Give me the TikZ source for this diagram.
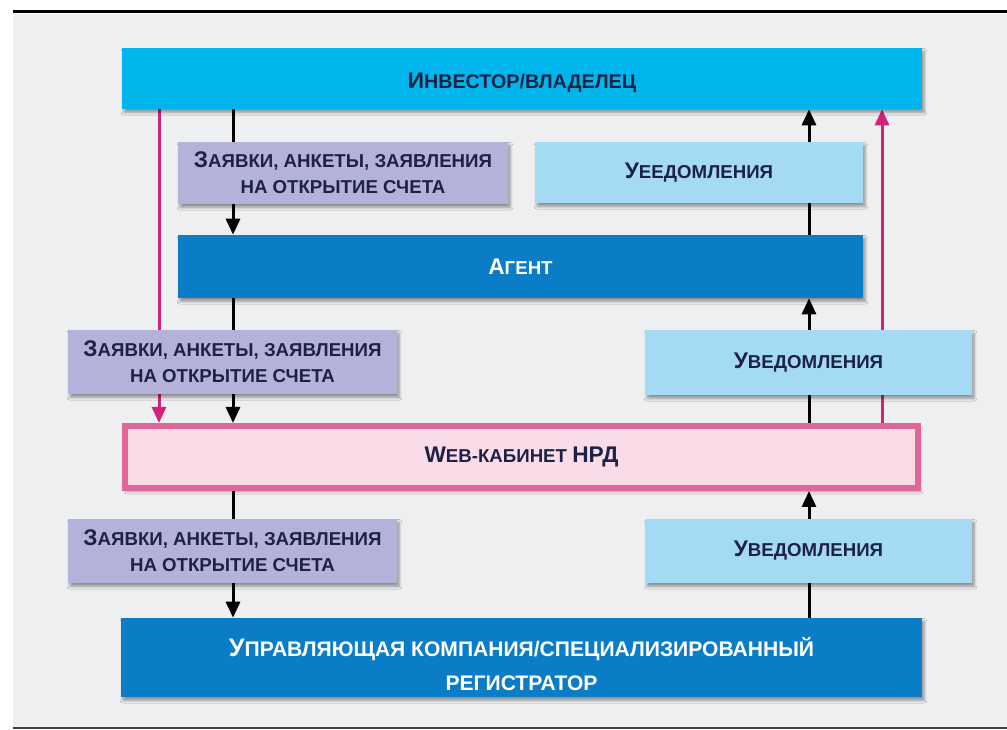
\documentclass[tikz,border=0pt]{standalone}
\usepackage{fontspec}
\setmainfont{Liberation Sans}
\usetikzlibrary{arrows.meta,shadows.blur,backgrounds}
\definecolor{bgc}{HTML}{EEEFF0}
\definecolor{invc}{HTML}{00B5EC}
\definecolor{dkb}{HTML}{0B7CC6}
\definecolor{lav}{HTML}{B4B1DA}
\definecolor{ltb}{HTML}{A5DAF4}
\definecolor{pinkf}{HTML}{FADCE9}
\definecolor{pinkb}{HTML}{DF6799}
\definecolor{mag}{HTML}{D4217E}
\definecolor{txt}{HTML}{1C2244}
\newcommand\Bg[1]{{\fontsize{17}{19.5}\selectfont #1}}
\newcommand\Bgg[1]{{\fontsize{19}{25.5}\selectfont #1}}
\begin{document}
\begin{tikzpicture}[x=0.75pt,y=-0.75pt,
  box/.style={rectangle, inner sep=0pt, align=center,
    font=\fontsize{14}{19.5}\selectfont\bfseries, text=txt,
    blur shadow={shadow xshift=1.5pt, shadow yshift=-2.5pt, shadow blur steps=6, shadow opacity=40}},
  reqbox/.style={box, fill=lav},
  notebox/.style={box, fill=ltb},
  conn/.style={line width=2.25pt, black, -{Triangle[width=10.5pt,length=12pt]}},
  mconn/.style={line width=2.25pt, mag, -{Triangle[width=10.5pt,length=12pt]}}]
\useasboundingbox (0,0) rectangle (1007,730);
\coordinate (cL) at (233,0);
\coordinate (cR) at (809,0);
\coordinate (mL) at (159,0);
\coordinate (mR) at (882,0);

\node[box, fill=invc, minimum width=600pt, minimum height=45.75pt,
  font=\fontsize{14.8}{19.5}\selectfont\bfseries] (inv) at (522,78.5)
  {\smash{\raisebox{-7.5pt}{\Bg{И}НВЕСТОР/ВЛАДЕЛЕЦ}}};
\node[reqbox, minimum width=247.5pt, minimum height=46.5pt] (p1) at (343,173)
  {\Bg{З}АЯВКИ, АНКЕТЫ, ЗАЯВЛЕНИЯ\\НА ОТКРЫТИЕ СЧЕТА};
\node[notebox, minimum width=246pt, minimum height=45.75pt] (n1) at (699,172.5)
  {\Bg{У}ЕЕДОМЛЕНИЯ};
\node[box, fill=dkb, text=white, minimum width=513.75pt, minimum height=47.25pt] (agent) at (520.5,266.5)
  {\Bg{А}ГЕНТ};
\node[reqbox, minimum width=246.75pt, minimum height=48pt] (p2) at (232.5,362)
  {\Bg{З}АЯВКИ, АНКЕТЫ, ЗАЯВЛЕНИЯ\\НА ОТКРЫТИЕ СЧЕТА};
\node[notebox, minimum width=245.25pt, minimum height=48.75pt] (n2) at (808.5,362.5)
  {\Bg{У}ВЕДОМЛЕНИЯ};
\node[box, fill=pinkf, draw=pinkb, line width=4.5pt, minimum width=594.75pt, minimum height=46.5pt] (web) at (521.5,457)
  {\Bg{W}EB-КАБИНЕТ \Bg{НРД}};
\node[reqbox, minimum width=246.75pt, minimum height=48pt] (p3) at (232.5,551)
  {\Bg{З}АЯВКИ, АНКЕТЫ, ЗАЯВЛЕНИЯ\\НА ОТКРЫТИЕ СЧЕТА};
\node[notebox, minimum width=245.25pt, minimum height=48pt] (n3) at (808.5,551)
  {\Bg{У}ВЕДОМЛЕНИЯ};
\node[box, fill=dkb, minimum width=600.75pt, minimum height=59.25pt] (bot) at (521.5,657.5) {};
\node[inner sep=0pt, align=center, text=white,
  font=\fontsize{15.8}{25.5}\selectfont\bfseries] (botlabel) at (521.5,664.5)
  {\Bgg{У}ПРАВЛЯЮЩАЯ КОМПАНИЯ/СПЕЦИАЛИЗИРОВАННЫЙ\\РЕГИСТРАТОР};

\begin{pgfonlayer}{background}
  \fill[white] (0,0) rectangle (1007,730);
  \fill[bgc] (13,14) rectangle (1007,727);
  \draw[line width=2.25pt, black] (13,12) -- (1007,12);
  \draw[line width=1.8pt, black!75] (13,728) -- (1007,728);
  % requests (down)
  \draw[conn] (inv.south -| cL) -- (agent.north -| cL);
  \draw[conn] (agent.south -| cL) -- (web.north -| cL);
  \draw[conn] (web.south -| cL) -- (bot.north -| cL);
  % notifications (up)
  \draw[conn] (agent.north -| cR) -- (inv.south -| cR);
  \draw[conn] (web.north -| cR) -- (agent.south -| cR);
  \draw[conn] (bot.north -| cR) -- (web.south -| cR);
  % direct links via web cabinet
  \draw[mconn] (inv.south -| mL) -- (web.north -| mL);
  \draw[mconn] (web.north -| mR) -- (inv.south -| mR);
\end{pgfonlayer}
\end{tikzpicture}
\end{document}
